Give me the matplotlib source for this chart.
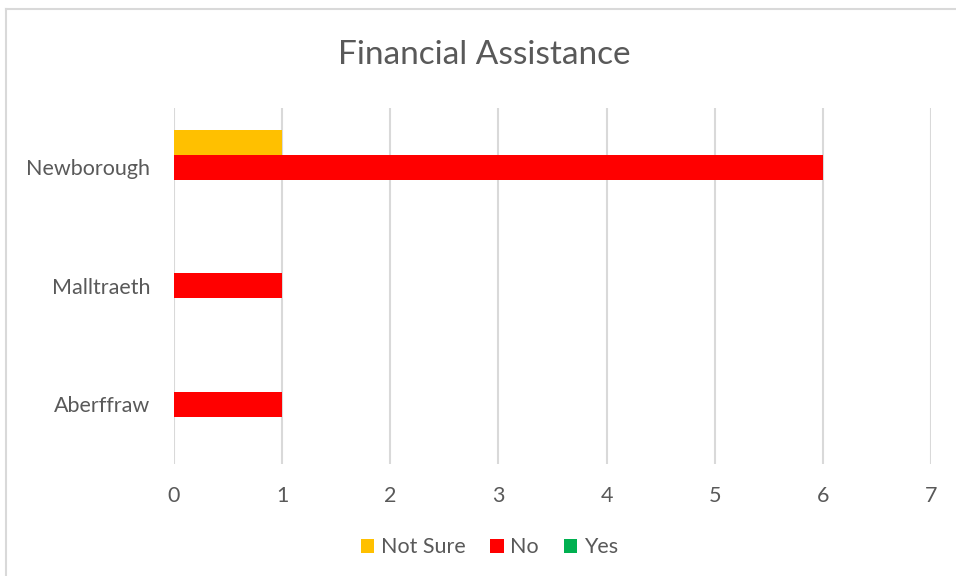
import matplotlib

matplotlib.use("Agg")
import matplotlib.pyplot as plt
import numpy as np
from matplotlib.lines import Line2D

# data
categories = ["Aberffraw", "Malltraeth", "Newborough"]
yes = [0, 0, 0]
no = [1, 1, 6]
not_sure = [0, 0, 1]
x_ticks = [0, 1, 2, 3, 4, 5, 6, 7]

TEXT = "#595959"
GRID = "#d9d9d9"
plt.rcParams["font.family"] = ["Lato", "DejaVu Sans"]

fig = plt.figure(figsize=(9.56, 5.76), dpi=100)
ax = fig.add_axes([0.182, 0.1953, 0.7918, 0.6172])

y = np.arange(len(categories))
h = 0.211
ax.barh(y - h, yes, height=h, color="#00B050", label="Yes")
ax.barh(y, no, height=h, color="#FF0000", label="No")
ax.barh(y + h, not_sure, height=h, color="#FFC000", label="Not Sure")

ax.set_xlim(0, 7)
ax.set_ylim(-0.5, 2.5)
ax.set_xticks(x_ticks)
ax.set_yticks(y)
ax.set_yticklabels(categories)
ax.tick_params(axis="both", length=0, labelsize=15.5, colors=TEXT)
ax.tick_params(axis="x", pad=16)
ax.tick_params(axis="y", pad=17)
ax.grid(axis="x", color=GRID, linewidth=1.5)
ax.set_axisbelow(True)
for s in ax.spines.values():
    s.set_visible(False)

fig.text(0.507, 0.905, "Financial Assistance", ha="center", va="center",
         fontsize=24, color=TEXT)

handles, labels = ax.get_legend_handles_labels()
order = [2, 1, 0]
fig.legend([handles[i] for i in order], [labels[i] for i in order],
           loc="center", bbox_to_anchor=(0.512, 0.05), ncol=3, frameon=False,
           fontsize=15.5, labelcolor=TEXT, handlelength=0.63, handleheight=0.63,
           handletextpad=0.3, columnspacing=1.15, borderpad=0)

# chart border (left and top visible)
fig.add_artist(Line2D([6 / 956, 6 / 956], [0, 1 - 9 / 576], color=GRID,
                      linewidth=1.5, transform=fig.transFigure))
fig.add_artist(Line2D([6 / 956, 1], [1 - 9 / 576, 1 - 9 / 576], color=GRID,
                      linewidth=1.5, transform=fig.transFigure))

fig.savefig("out.png", dpi=100)
